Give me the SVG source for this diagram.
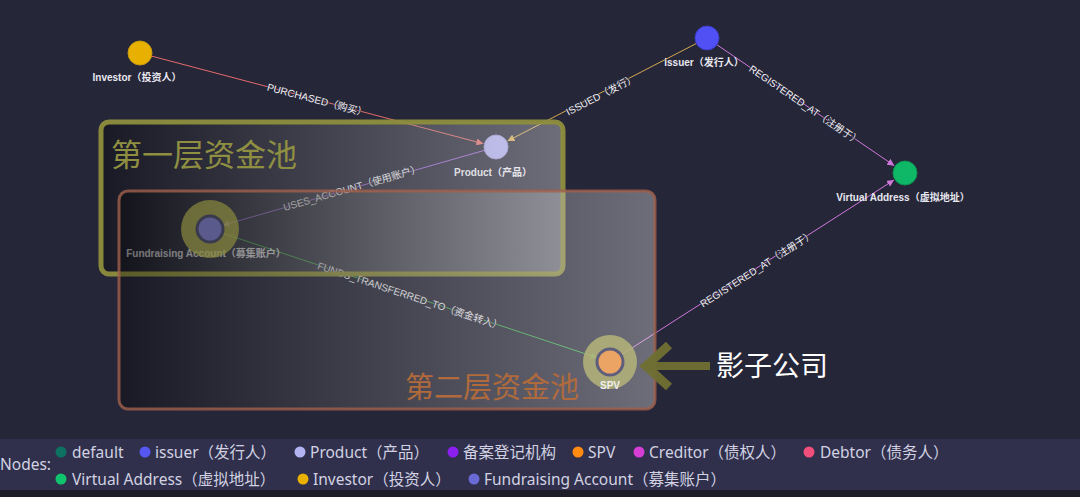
<svg xmlns="http://www.w3.org/2000/svg" width="1080" height="497" viewBox="0 0 1080 497">
<style>
.elabel{font-family:"Liberation Sans","Noto Sans CJK SC",sans-serif;font-size:10px;fill:#f2f2f6;stroke:#262639;stroke-width:1.6px;paint-order:stroke;text-anchor:middle;dominant-baseline:central}
.nlabel{font-family:"Liberation Sans","Noto Sans CJK SC",sans-serif;font-size:10px;font-weight:bold;fill:#e8e8f0;text-anchor:middle}
.edge{fill:none;stroke-width:1}
.leg{font-family:"Noto Sans","Noto Sans CJK SC",sans-serif;font-size:15.5px;fill:#d2d2e2}
.title{font-family:"Noto Sans CJK SC",sans-serif}
</style>
<defs>
<marker id="mRed" viewBox="0 0 10 10" refX="10" refY="5" markerWidth="7" markerHeight="7" markerUnits="userSpaceOnUse" orient="auto"><path d="M0,0 L10,5 L0,10 z" fill="#e36b6b"/></marker>
<marker id="mGold" viewBox="0 0 10 10" refX="10" refY="5" markerWidth="7" markerHeight="7" markerUnits="userSpaceOnUse" orient="auto"><path d="M0,0 L10,5 L0,10 z" fill="#d4a850"/></marker>
<marker id="mMag" viewBox="0 0 10 10" refX="10" refY="5" markerWidth="7" markerHeight="7" markerUnits="userSpaceOnUse" orient="auto"><path d="M0,0 L10,5 L0,10 z" fill="#cf78dc"/></marker>
<marker id="mPur" viewBox="0 0 10 10" refX="10" refY="5" markerWidth="7" markerHeight="7" markerUnits="userSpaceOnUse" orient="auto"><path d="M0,0 L10,5 L0,10 z" fill="#9b66d6"/></marker>
<marker id="mGrn" viewBox="0 0 10 10" refX="10" refY="5" markerWidth="6" markerHeight="6" markerUnits="userSpaceOnUse" orient="auto"><path d="M0,0 L10,5 L0,10 z" fill="#3fae4a"/></marker>
<linearGradient id="g1" x1="0" y1="0" x2="1" y2="0">
<stop offset="0" stop-color="#000000" stop-opacity="0.33"/>
<stop offset="1" stop-color="#ffffff" stop-opacity="0.33"/>
</linearGradient>
<linearGradient id="g2" x1="0" y1="0" x2="1" y2="0">
<stop offset="0" stop-color="#000000" stop-opacity="0.33"/>
<stop offset="1" stop-color="#ffffff" stop-opacity="0.33"/>
</linearGradient>
</defs>
<rect x="0" y="0" width="1080" height="497" fill="#262639"/>

<g id="connectors">
<line class="edge" x1="151.6" y1="56.1" x2="483.4" y2="143.7" stroke="#e36b6b" marker-end="url(#mRed)"/>
<line class="edge" x1="696.3" y1="43.5" x2="507.5" y2="141" stroke="#d4a850" marker-end="url(#mGold)"/>
<line class="edge" x1="717" y1="44.8" x2="894.3" y2="165.7" stroke="#cf78dc" marker-end="url(#mMag)"/>
<line class="edge" x1="484.5" y1="150.3" x2="222.5" y2="225.4" stroke="#9b66d6" marker-end="url(#mPur)"/>
<line class="edge" x1="221.4" y1="232.8" x2="596.7" y2="357.6" stroke="#3fae4a" marker-end="url(#mGrn)"/>
<line class="edge" x1="621" y1="355" x2="894" y2="180" stroke="#cf78dc" marker-end="url(#mMag)"/>
<text class="elabel" transform="translate(317,100) rotate(14.8)">PURCHASED（购买）</text>
<text class="elabel" transform="translate(601,95) rotate(-27.3)">ISSUED（发行）</text>
<text class="elabel" transform="translate(805,105) rotate(34.3)">REGISTERED_AT（注册于）</text>
<text class="elabel" transform="translate(352,188) rotate(-16)">USES_ACCOUNT（使用账户）</text>
<text class="elabel" transform="translate(410,296) rotate(18.4)">FUNDS_TRANSFERRED_TO（资金转入）</text>
<text class="elabel" transform="translate(757,269) rotate(-32.6)">REGISTERED_AT（注册于）</text>
</g>

<g id="node-investor">
<circle cx="140" cy="53" r="12" fill="#e8b000" stroke="#c79a10" stroke-width="1"/>
<text class="nlabel" x="137" y="81">Investor（投资人）</text>
</g>
<g id="node-issuer">
<circle cx="707" cy="38" r="12" fill="#5050f5" stroke="#3d3dc8" stroke-width="1"/>
<text class="nlabel" x="704" y="66">issuer（发行人）</text>
</g>
<g id="node-product">
<circle cx="496" cy="147" r="12" fill="#adadee" stroke="#9393d0" stroke-width="1"/>
<text class="nlabel" x="493" y="176">Product（产品）</text>
</g>
<g id="node-virtual-address">
<circle cx="905" cy="173" r="12" fill="#0fb866" stroke="#0c9452" stroke-width="1"/>
<text class="nlabel" x="903" y="201">Virtual Address（虚拟地址）</text>
</g>
<g id="node-fundraising">
<circle cx="210" cy="229" r="12" fill="#6a6ad0"/>
<text class="nlabel" x="206" y="257" style="fill:#f0f0f4">Fundraising Account（募集账户）</text>
</g>
<g id="node-spv">
<circle cx="610" cy="362" r="13" fill="#e08a3a"/>
</g>

<g id="pool-1">
<rect x="101" y="122" width="462" height="152" rx="8" fill="url(#g1)" stroke="#8e8e3e" stroke-opacity="0.95" stroke-width="5"/>
<text class="title" x="111" y="166" font-size="31" fill="#8f8f42">第一层资金池</text>
</g>
<g id="pool-2">
<rect x="119" y="191" width="536" height="218" rx="9" fill="url(#g2)" stroke="#a0604c" stroke-opacity="0.8" stroke-width="3"/>
<text class="title" x="405" y="398" font-size="29" fill="#b06a3c">第二层资金池</text>
</g>

<g id="highlight-fundraising">
<circle cx="210" cy="229" r="29" fill="#8a8a3e" fill-opacity="0.7"/>
<circle cx="210" cy="229" r="13" fill="#5a5a8c" stroke="#3a3a4e" stroke-width="3"/>
</g>
<g id="highlight-spv">
<circle cx="610" cy="362" r="27" fill="#b4b47a" fill-opacity="0.85"/>
<circle cx="610" cy="362" r="13" fill="#eba463" stroke="#5e5e7c" stroke-width="3"/>
<text class="nlabel" x="610" y="389" style="fill:#f0f0f0">SPV</text>
</g>

<g id="shadow-company">
<polyline points="669,345 646,366 669,387" fill="none" stroke="#6f6f32" stroke-width="9" stroke-opacity="0.95" stroke-linejoin="miter"/>
<line x1="650" y1="366" x2="710" y2="366" stroke="#6f6f32" stroke-width="8" stroke-opacity="0.95"/>
<text class="title" x="716" y="376" font-size="28" fill="#ffffff">影子公司</text>
</g>

<g id="legend">
<rect x="0" y="439" width="1080" height="51" fill="#30304c"/>
<rect x="0" y="490" width="1080" height="7" fill="#1e1e2a"/>
<text class="leg" x="0" y="470" fill="#c8c8d8">Nodes:</text>
<circle cx="61" cy="452" r="5.5" fill="#0e7262"/><text class="leg" x="72" y="458">default</text>
<circle cx="145" cy="452" r="5.5" fill="#5656f2"/><text class="leg" x="155" y="458">issuer（发行人）</text>
<circle cx="300" cy="452" r="5.5" fill="#b3b3f2"/><text class="leg" x="310" y="458">Product（产品）</text>
<circle cx="453" cy="452" r="5.5" fill="#8a1ff0"/><text class="leg" x="463" y="458">备案登记机构</text>
<circle cx="578" cy="452" r="5.5" fill="#ff8c10"/><text class="leg" x="588" y="458">SPV</text>
<circle cx="639" cy="452" r="5.5" fill="#d43ed4"/><text class="leg" x="649" y="458">Creditor（债权人）</text>
<circle cx="809" cy="452" r="5.5" fill="#f04f7c"/><text class="leg" x="820" y="458">Debtor（债务人）</text>
<circle cx="61" cy="479" r="5.5" fill="#10c46e"/><text class="leg" x="72" y="485">Virtual Address（虚拟地址）</text>
<circle cx="303" cy="479" r="5.5" fill="#e8b000"/><text class="leg" x="313" y="485">Investor（投资人）</text>
<circle cx="474" cy="479" r="5.5" fill="#6a6ad4"/><text class="leg" x="484" y="485">Fundraising Account（募集账户）</text>
</g>
</svg>
